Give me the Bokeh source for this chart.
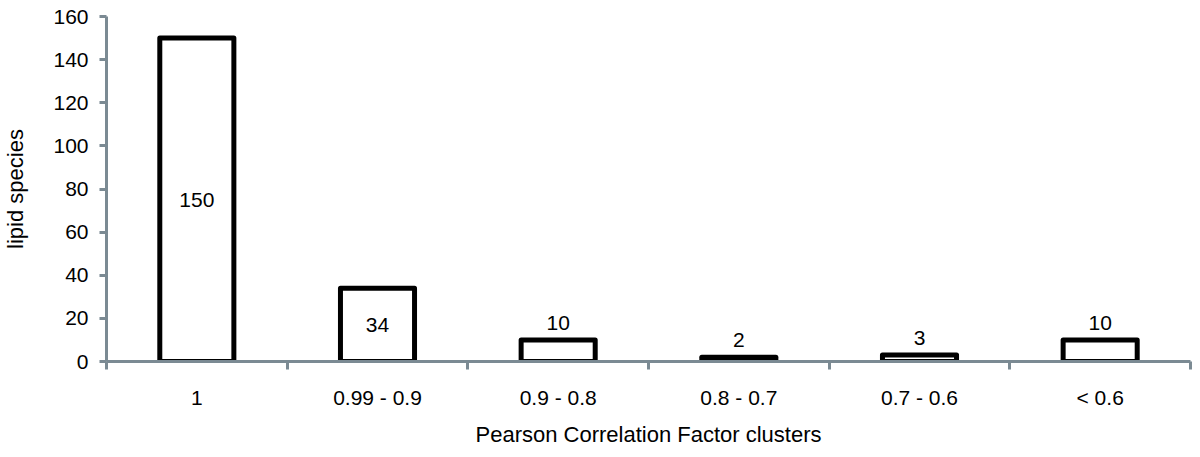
import numpy as np
from bokeh.plotting import figure
from bokeh.models import Range1d, FixedTicker, ColumnDataSource
from bokeh.core.properties import value
from bokeh.embed import file_html
from bokeh.resources import INLINE

# ---- data ----
categories = ["1", "0.99 - 0.9", "0.9 - 0.8", "0.8 - 0.7", "0.7 - 0.6", "< 0.6"]
counts = [150, 34, 10, 2, 3, 10]
y_ticks = [0, 20, 40, 60, 80, 100, 120, 140, 160]

FONT = "Liberation Sans"
AXIS_COLOR = "#7b8a93"

n = len(categories)
centers = list(np.arange(n) + 0.5)
bounds = list(np.arange(n + 1).astype(float))

p = figure(width=1192, height=449, output_backend="svg", toolbar_location=None,
           x_range=Range1d(0, n), y_range=Range1d(0, 160),
           min_border_left=98, min_border_right=2, min_border_top=16, min_border_bottom=80)
p.outline_line_color = None
p.xgrid.visible = False
p.ygrid.visible = False
p.background_fill_color = "white"

src = ColumnDataSource(dict(x=centers, top=counts, cat=categories))
p.vbar(x="x", top="top", bottom=0, width=0.41, source=src,
       fill_color="white", line_color="black", line_width=5, line_join="round")

# value labels: centred inside tall bars, above short ones
inside = [i for i, c in enumerate(counts) if c >= 20]
above = [i for i, c in enumerate(counts) if c < 20]
p.text(x=[centers[i] for i in inside], y=[counts[i] / 2 for i in inside],
       text=[str(counts[i]) for i in inside], text_align="center", text_baseline="middle",
       text_font=value(FONT), text_font_size="21px", text_color="black")
p.text(x=[centers[i] for i in above], y=[counts[i] for i in above],
       text=[str(counts[i]) for i in above], text_align="center", text_baseline="bottom",
       y_offset=-10,
       text_font=value(FONT), text_font_size="21px", text_color="black")

# x axis
xa = p.xaxis[0]
xa.ticker = FixedTicker(ticks=centers, minor_ticks=bounds)
xa.major_label_overrides = {float(c): lab for c, lab in zip(centers, categories)}
xa.major_tick_in = 0
xa.major_tick_out = 0
xa.minor_tick_in = 0
xa.minor_tick_out = 8
xa.minor_tick_line_color = AXIS_COLOR
xa.minor_tick_line_width = 3
xa.axis_line_color = AXIS_COLOR
xa.axis_line_width = 3
xa.major_label_standoff = 16
xa.major_label_text_font = FONT
xa.major_label_text_font_size = "21px"
xa.major_label_text_color = "black"
xa.axis_label = "Pearson Correlation Factor clusters"
xa.axis_label_text_font = FONT
xa.axis_label_text_font_size = "22px"
xa.axis_label_text_font_style = "normal"
xa.axis_label_text_color = "black"
xa.axis_label_text_line_height = 0.6
xa.axis_label_standoff = 10

# y axis
ya = p.yaxis[0]
ya.ticker = FixedTicker(ticks=y_ticks)
ya.minor_tick_line_color = None
ya.major_tick_in = 0
ya.major_tick_out = 7
ya.major_tick_line_color = AXIS_COLOR
ya.major_tick_line_width = 3
ya.axis_line_color = AXIS_COLOR
ya.axis_line_width = 3
ya.major_label_standoff = 11
ya.major_label_text_font = FONT
ya.major_label_text_font_size = "21px"
ya.major_label_text_color = "black"
ya.axis_label = "lipid species"
ya.axis_label_text_font = FONT
ya.axis_label_text_font_size = "22px"
ya.axis_label_text_font_style = "normal"
ya.axis_label_text_color = "black"
ya.axis_label_standoff = 22

open("out.html", "w").write(file_html(p, INLINE))
